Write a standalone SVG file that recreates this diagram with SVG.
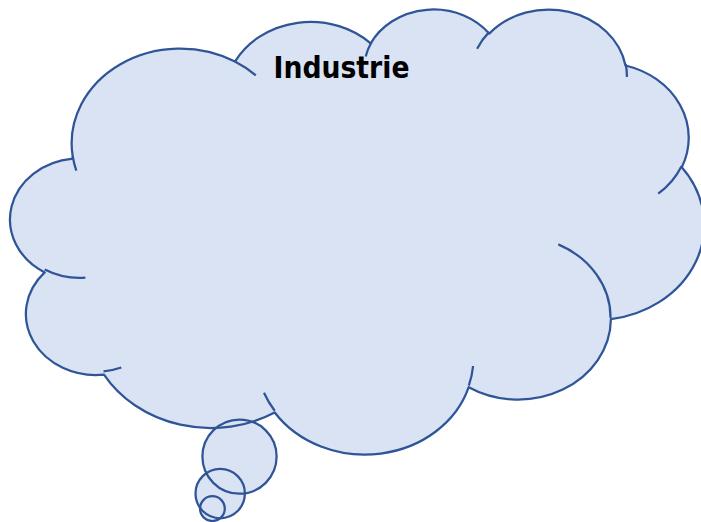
<svg xmlns="http://www.w3.org/2000/svg" width="701" height="522" viewBox="0 0 701 522">
  <style>
    .fill { fill: #DAE3F3; stroke: none; }
    .line { fill: none; stroke: #2F5597; stroke-width: 2.25; stroke-linejoin: round; }
    .label { font-family: "DejaVu Sans Condensed", "DejaVu Sans", sans-serif; font-weight: bold; font-size: 29.5px; fill: #000000; }
  </style>
  <defs>
    <path id="cloudShape" d="M 72.65 156.03 A 108.5 94.7 0 0 1 235.0 61.6 A 85.7 74.9 0 0 1 370.7 43.4 A 70.1 61.2 0 0 1 489.2 33.6 A 78.0 67.9 0 0 1 625.5 65.5 A 85.7 74.9 0 0 1 681.8 167.3 A 108.8 95.0 0 0 1 610.9 319.1 A 92.9 81.0 0 0 1 468.7 387.2 A 108.5 94.9 0 0 1 274.7 412.5 A 124.0 108.6 0 0 1 104.0 374.6 A 70.0 61.0 0 0 1 44.7 272.4 A 69.8 61.2 0 0 1 72.8 158.6 Z"/>
  </defs>
  <g id="cloud-callout">
    <g id="fills">
      <use href="#cloudShape" class="fill"/>
      <circle class="fill" cx="239.5" cy="456.6" r="37.1"/>
      <circle class="fill" cx="220.2" cy="493.6" r="24.7"/>
      <circle class="fill" cx="212.4" cy="508.6" r="12.4"/>
    </g>
    <g id="outlines">
      <use href="#cloudShape" class="line"/>
      <circle class="line" cx="239.5" cy="456.6" r="37.1"/>
      <circle class="line" cx="220.2" cy="493.6" r="24.7"/>
      <circle class="line" cx="212.4" cy="508.6" r="12.4"/>
      <path class="line" d="M 85.4 277.6 A 69.8 61.2 0 0 1 44.7 269.4 M 121.3 367.5 A 70.0 61.0 0 0 1 103.5 371.4 M 274.7 410.7 A 108.5 94.9 0 0 1 264.0 392.7 M 473.1 366.0 A 108.5 94.9 0 0 1 468.8 385.6 M 558.3 244.4 A 92.9 81.0 0 0 1 610.5 318.0 M 681.5 166.2 A 85.7 74.9 0 0 1 658.2 193.7 M 625.7 63.9 A 78.0 67.9 0 0 1 626.9 76.9 M 477.1 48.7 A 78.0 67.9 0 0 1 489.1 32.1 M 365.7 56.6 A 70.1 61.2 0 0 1 371.5 42.3 M 234.9 61.5 A 108.5 94.7 0 0 1 255.8 75.4 M 76.3 170.6 A 108.5 94.7 0 0 1 72.7 156.0"/>
    </g>
    <text class="label" x="273.5" y="78.3" textLength="136" lengthAdjust="spacingAndGlyphs">Industrie</text>
  </g>
</svg>
